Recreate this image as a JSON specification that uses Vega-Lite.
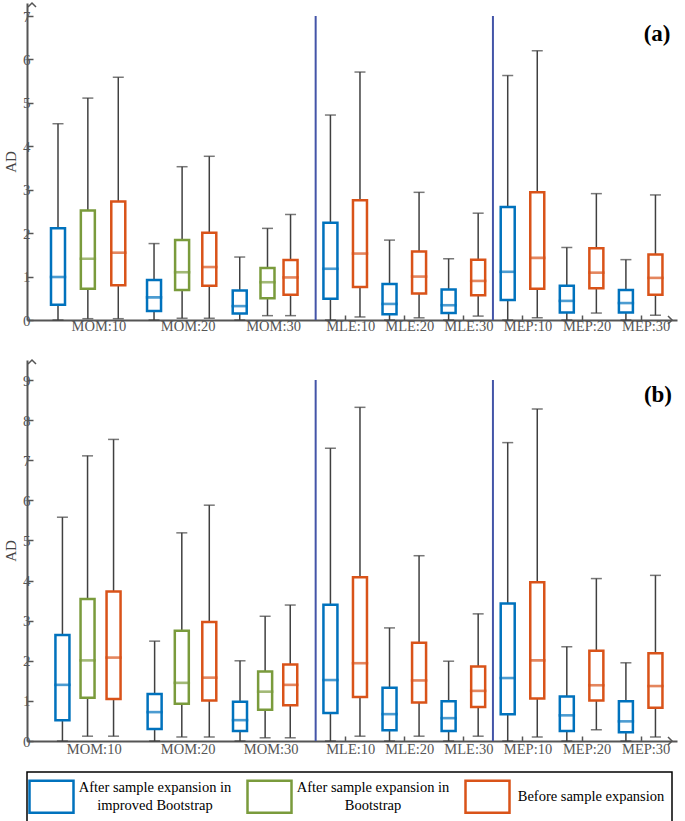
{
  "$schema": "https://vega.github.io/schema/vega-lite/v6.json",
  "padding": {"left": 3, "top": 0, "right": 2, "bottom": 0},
  "background": "white",
  "spacing": 24,
  "datasets": {
    "a": [
      {"group": "MOM:10", "series": "After sample expansion in improved Bootstrap", "pos": 0.78, "lo": 0, "q1": 0.35, "med": 0.99, "q3": 2.11, "hi": 4.52},
      {"group": "MOM:10", "series": "After sample expansion in Bootstrap", "pos": 1.79, "lo": 0.03, "q1": 0.72, "med": 1.41, "q3": 2.52, "hi": 5.11},
      {"group": "MOM:10", "series": "Before sample expansion", "pos": 2.82, "lo": 0.03, "q1": 0.80, "med": 1.55, "q3": 2.73, "hi": 5.59},
      {"group": "MOM:20", "series": "After sample expansion in improved Bootstrap", "pos": 4.03, "lo": 0, "q1": 0.21, "med": 0.52, "q3": 0.92, "hi": 1.76},
      {"group": "MOM:20", "series": "After sample expansion in Bootstrap", "pos": 4.98, "lo": 0.04, "q1": 0.69, "med": 1.10, "q3": 1.84, "hi": 3.53},
      {"group": "MOM:20", "series": "Before sample expansion", "pos": 5.90, "lo": 0.04, "q1": 0.79, "med": 1.22, "q3": 2.01, "hi": 3.77},
      {"group": "MOM:30", "series": "After sample expansion in improved Bootstrap", "pos": 6.93, "lo": 0, "q1": 0.15, "med": 0.32, "q3": 0.68, "hi": 1.45},
      {"group": "MOM:30", "series": "After sample expansion in Bootstrap", "pos": 7.87, "lo": 0.10, "q1": 0.50, "med": 0.87, "q3": 1.20, "hi": 2.11},
      {"group": "MOM:30", "series": "Before sample expansion", "pos": 8.65, "lo": 0.10, "q1": 0.58, "med": 0.98, "q3": 1.38, "hi": 2.43},
      {"group": "MLE:10", "series": "After sample expansion in improved Bootstrap", "pos": 10, "lo": 0, "q1": 0.49, "med": 1.18, "q3": 2.24, "hi": 4.72},
      {"group": "MLE:10", "series": "Before sample expansion", "pos": 11, "lo": 0.07, "q1": 0.76, "med": 1.53, "q3": 2.76, "hi": 5.71},
      {"group": "MLE:20", "series": "After sample expansion in improved Bootstrap", "pos": 12, "lo": 0, "q1": 0.13, "med": 0.37, "q3": 0.83, "hi": 1.84},
      {"group": "MLE:20", "series": "Before sample expansion", "pos": 13, "lo": 0.05, "q1": 0.61, "med": 1.00, "q3": 1.58, "hi": 2.94},
      {"group": "MLE:30", "series": "After sample expansion in improved Bootstrap", "pos": 14, "lo": 0, "q1": 0.16, "med": 0.34, "q3": 0.70, "hi": 1.41},
      {"group": "MLE:30", "series": "Before sample expansion", "pos": 15, "lo": 0.09, "q1": 0.57, "med": 0.90, "q3": 1.39, "hi": 2.46},
      {"group": "MEP:10", "series": "After sample expansion in improved Bootstrap", "pos": 16, "lo": 0, "q1": 0.46, "med": 1.11, "q3": 2.60, "hi": 5.63},
      {"group": "MEP:10", "series": "Before sample expansion", "pos": 17, "lo": 0.05, "q1": 0.72, "med": 1.43, "q3": 2.94, "hi": 6.20},
      {"group": "MEP:20", "series": "After sample expansion in improved Bootstrap", "pos": 18, "lo": 0, "q1": 0.17, "med": 0.44, "q3": 0.79, "hi": 1.67},
      {"group": "MEP:20", "series": "Before sample expansion", "pos": 19, "lo": 0.16, "q1": 0.73, "med": 1.09, "q3": 1.65, "hi": 2.91},
      {"group": "MEP:30", "series": "After sample expansion in improved Bootstrap", "pos": 20, "lo": 0, "q1": 0.17, "med": 0.39, "q3": 0.69, "hi": 1.39},
      {"group": "MEP:30", "series": "Before sample expansion", "pos": 21, "lo": 0.11, "q1": 0.58, "med": 0.97, "q3": 1.51, "hi": 2.88}
    ],
    "b": [
      {"group": "MOM:10", "series": "After sample expansion in improved Bootstrap", "pos": 0.93, "lo": 0, "q1": 0.52, "med": 1.40, "q3": 2.64, "hi": 5.58},
      {"group": "MOM:10", "series": "After sample expansion in Bootstrap", "pos": 1.78, "lo": 0.12, "q1": 1.08, "med": 2.01, "q3": 3.54, "hi": 7.11},
      {"group": "MOM:10", "series": "Before sample expansion", "pos": 2.66, "lo": 0.12, "q1": 1.05, "med": 2.08, "q3": 3.73, "hi": 7.52},
      {"group": "MOM:20", "series": "After sample expansion in improved Bootstrap", "pos": 4.05, "lo": 0, "q1": 0.30, "med": 0.72, "q3": 1.17, "hi": 2.49},
      {"group": "MOM:20", "series": "After sample expansion in Bootstrap", "pos": 4.97, "lo": 0.10, "q1": 0.93, "med": 1.45, "q3": 2.75, "hi": 5.19},
      {"group": "MOM:20", "series": "Before sample expansion", "pos": 5.90, "lo": 0.10, "q1": 1.01, "med": 1.58, "q3": 2.97, "hi": 5.88},
      {"group": "MOM:30", "series": "After sample expansion in improved Bootstrap", "pos": 6.94, "lo": 0, "q1": 0.25, "med": 0.52, "q3": 0.98, "hi": 2.00},
      {"group": "MOM:30", "series": "After sample expansion in Bootstrap", "pos": 7.79, "lo": 0.08, "q1": 0.78, "med": 1.23, "q3": 1.73, "hi": 3.11},
      {"group": "MOM:30", "series": "Before sample expansion", "pos": 8.64, "lo": 0.08, "q1": 0.89, "med": 1.40, "q3": 1.91, "hi": 3.39},
      {"group": "MLE:10", "series": "After sample expansion in improved Bootstrap", "pos": 10, "lo": 0, "q1": 0.70, "med": 1.52, "q3": 3.40, "hi": 7.30},
      {"group": "MLE:10", "series": "Before sample expansion", "pos": 11, "lo": 0.12, "q1": 1.10, "med": 1.94, "q3": 4.08, "hi": 8.32},
      {"group": "MLE:20", "series": "After sample expansion in improved Bootstrap", "pos": 12, "lo": 0, "q1": 0.27, "med": 0.67, "q3": 1.33, "hi": 2.82},
      {"group": "MLE:20", "series": "Before sample expansion", "pos": 13, "lo": 0.12, "q1": 0.96, "med": 1.51, "q3": 2.45, "hi": 4.62},
      {"group": "MLE:30", "series": "After sample expansion in improved Bootstrap", "pos": 14, "lo": 0, "q1": 0.25, "med": 0.57, "q3": 0.99, "hi": 1.99},
      {"group": "MLE:30", "series": "Before sample expansion", "pos": 15, "lo": 0.12, "q1": 0.85, "med": 1.25, "q3": 1.86, "hi": 3.17},
      {"group": "MEP:10", "series": "After sample expansion in improved Bootstrap", "pos": 16, "lo": 0, "q1": 0.67, "med": 1.57, "q3": 3.43, "hi": 7.44},
      {"group": "MEP:10", "series": "Before sample expansion", "pos": 17, "lo": 0.10, "q1": 1.06, "med": 2.01, "q3": 3.96, "hi": 8.28},
      {"group": "MEP:20", "series": "After sample expansion in improved Bootstrap", "pos": 18, "lo": 0, "q1": 0.25, "med": 0.64, "q3": 1.11, "hi": 2.35},
      {"group": "MEP:20", "series": "Before sample expansion", "pos": 19, "lo": 0.28, "q1": 1.01, "med": 1.39, "q3": 2.25, "hi": 4.05},
      {"group": "MEP:30", "series": "After sample expansion in improved Bootstrap", "pos": 20, "lo": 0, "q1": 0.22, "med": 0.49, "q3": 0.99, "hi": 1.95},
      {"group": "MEP:30", "series": "Before sample expansion", "pos": 21, "lo": 0.10, "q1": 0.83, "med": 1.37, "q3": 2.19, "hi": 4.13}
    ]
  },
  "config": {
    "view": {"stroke": null},
    "font": "'Liberation Serif', 'Times New Roman', serif",
    "axis": {
      "grid": false,
      "domainColor": "#555555",
      "domainWidth": 2,
      "tickColor": "#555555",
      "tickWidth": 1.5,
      "labelFont": "'Liberation Serif', 'Times New Roman', serif",
      "labelColor": "#555555",
      "titleFont": "'Liberation Serif', 'Times New Roman', serif",
      "titleFontWeight": "normal",
      "titleColor": "#444444"
    },
    "axisX": {"labelFontSize": 14.5, "labelOffset": 5, "labelPadding": 4, "tickSize": -5, "labelFlush": false, "labelOverlap": false},
    "axisY": {"labelFontSize": 15, "titleFontSize": 15, "tickSize": -6, "labelPadding": 3, "titlePadding": 4},
    "legend": {
      "orient": "bottom",
      "direction": "horizontal",
      "symbolType": "M-1.375,-1H1.375V1H-1.375Z",
      "symbolSize": 1024,
      "symbolStrokeWidth": 2.5,
      "symbolFillColor": "white",
      "symbolOpacity": 1,
      "labelFont": "'Liberation Serif', 'Times New Roman', serif",
      "labelFontSize": 14.5,
      "labelColor": "black",
      "labelAlign": "center",
      "labelBaseline": "middle",
      "labelOffset": 86,
      "labelLimit": 400,
      "columnPadding": 10,
      "padding": 7,
      "strokeColor": "black",
      "strokeWidth": 1.5,
      "offset": 16
    }
  },
  "resolve": {"scale": {"stroke": "shared"}},
  "vconcat": [
    {
      "width": 650,
      "height": 317,
      "data": {"name": "a"},
      "layer": [
        {
          "mark": {"type": "rule", "color": "#404040", "strokeWidth": 1.5},
          "encoding": {
            "x": {
              "field": "pos", "type": "quantitative",
              "scale": {"domain": [-0.1, 21.56], "nice": false, "zero": false},
              "axis": {
                "title": null,
                "values": [1.98, 5.0, 7.89, 10.5, 12.5, 14.5, 16.5, 18.5, 20.5],
                "labelExpr": "datum.value < 3 ? 'MOM:10' : datum.value < 6 ? 'MOM:20' : datum.value < 9 ? 'MOM:30' : datum.value < 11 ? 'MLE:10' : datum.value < 13 ? 'MLE:20' : datum.value < 15 ? 'MLE:30' : datum.value < 17 ? 'MEP:10' : datum.value < 19 ? 'MEP:20' : 'MEP:30'",
                "labelPadding": 4,
                "tickOpacity": {"condition": {"test": "datum.value < 9", "value": 0}, "value": 1}
              }
            },
            "y": {
              "field": "lo", "type": "quantitative",
              "scale": {"domain": [0, 7.3], "nice": false},
              "axis": {"title": "AD", "values": [0, 1, 2, 3, 4, 5, 6, 7], "format": "d"}
            },
            "y2": {"field": "hi"}
          }
        },
        {
          "mark": {"type": "tick", "orient": "horizontal", "size": 11, "thickness": 1.5, "color": "#404040"},
          "encoding": {"x": {"field": "pos", "type": "quantitative"}, "y": {"field": "hi", "type": "quantitative"}}
        },
        {
          "mark": {"type": "tick", "orient": "horizontal", "size": 11, "thickness": 1.5, "color": "#404040"},
          "encoding": {"x": {"field": "pos", "type": "quantitative"}, "y": {"field": "lo", "type": "quantitative"}}
        },
        {
          "mark": {"type": "bar", "width": 14, "fill": "white", "strokeWidth": 2.5},
          "encoding": {
            "x": {"field": "pos", "type": "quantitative"},
            "y": {"field": "q1", "type": "quantitative"},
            "y2": {"field": "q3"},
            "stroke": {
              "field": "series", "type": "nominal",
              "scale": {"domain": ["After sample expansion in improved Bootstrap", "After sample expansion in Bootstrap", "Before sample expansion"], "range": ["#0072BD", "#7A9B3C", "#D95319"]},
              "legend": {
                "title": null,
                "labelExpr": "datum.label == 'After sample expansion in improved Bootstrap' ? ['After sample expansion in', 'improved Bootstrap'] : datum.label == 'After sample expansion in Bootstrap' ? ['After sample expansion in', 'Bootstrap'] : datum.label",
                "encode": {
                  "symbols": {"update": {"fill": {"value": "white"}, "fillOpacity": {"value": 1}}},
                  "labels": {"update": {"lineHeight": {"value": 18}, "dy": {"signal": "datum.label == 'Before sample expansion' ? 0 : -9"}}}
                }
              }
            }
          }
        },
        {
          "mark": {"type": "tick", "orient": "horizontal", "size": 14, "thickness": 0.1, "filled": false, "strokeWidth": 2.5},
          "encoding": {
            "x": {"field": "pos", "type": "quantitative"},
            "y": {"field": "med", "type": "quantitative"},
            "stroke": {
              "field": "series", "type": "nominal",
              "legend": {
                "title": null,
                "labelExpr": "datum.label == 'After sample expansion in improved Bootstrap' ? ['After sample expansion in', 'improved Bootstrap'] : datum.label == 'After sample expansion in Bootstrap' ? ['After sample expansion in', 'Bootstrap'] : datum.label",
                "encode": {
                  "symbols": {"update": {"fill": {"value": "white"}, "fillOpacity": {"value": 1}}},
                  "labels": {"update": {"lineHeight": {"value": 18}, "dy": {"signal": "datum.label == 'Before sample expansion' ? 0 : -9"}}}
                }
              }
            }
          }
        },
        {
          "data": {"values": [{}]},
          "mark": {"type": "rule", "color": "#4455a8", "strokeWidth": 2},
          "encoding": {"x": {"datum": 9.5, "type": "quantitative"}, "y": {"datum": 0, "type": "quantitative"}, "y2": {"datum": 7}}
        },
        {
          "data": {"values": [{}]},
          "mark": {"type": "rule", "color": "#4455a8", "strokeWidth": 2},
          "encoding": {"x": {"datum": 15.5, "type": "quantitative"}, "y": {"datum": 0, "type": "quantitative"}, "y2": {"datum": 7}}
        },
        {
          "data": {"values": [{}]},
          "mark": {"type": "point", "shape": "M-1,1L0,0L1,1", "filled": false, "stroke": "#555555", "strokeWidth": 1.5, "size": 64, "opacity": 1},
          "encoding": {"x": {"datum": -0.1, "type": "quantitative"}, "y": {"datum": 7.3, "type": "quantitative"}}
        },
        {
          "data": {"values": [{}]},
          "mark": {"type": "point", "shape": "M-1,-1L0,0L-1,1", "filled": false, "stroke": "#555555", "strokeWidth": 1.5, "size": 64, "opacity": 1},
          "encoding": {"x": {"datum": 21.56, "type": "quantitative"}, "y": {"datum": 0, "type": "quantitative"}}
        },
        {
          "data": {"values": [{}]},
          "mark": {"type": "text", "text": "(a)", "font": "'Liberation Serif', 'Times New Roman', serif", "fontWeight": "bold", "fontSize": 23, "align": "right", "baseline": "middle", "color": "black"},
          "encoding": {"x": {"datum": 21.51, "type": "quantitative"}, "y": {"datum": 6.58, "type": "quantitative"}}
        }
      ]
    },
    {
      "width": 650,
      "height": 381,
      "data": {"name": "b"},
      "layer": [
        {
          "mark": {"type": "rule", "color": "#404040", "strokeWidth": 1.5},
          "encoding": {
            "x": {
              "field": "pos", "type": "quantitative",
              "scale": {"domain": [-0.1, 21.56], "nice": false, "zero": false},
              "axis": {
                "title": null,
                "values": [1.82, 5.0, 7.81, 10.5, 12.5, 14.5, 16.5, 18.5, 20.5],
                "labelExpr": "datum.value < 3 ? 'MOM:10' : datum.value < 6 ? 'MOM:20' : datum.value < 9 ? 'MOM:30' : datum.value < 11 ? 'MLE:10' : datum.value < 13 ? 'MLE:20' : datum.value < 15 ? 'MLE:30' : datum.value < 17 ? 'MEP:10' : datum.value < 19 ? 'MEP:20' : 'MEP:30'",
                "labelPadding": 6,
                "tickOpacity": {"condition": {"test": "datum.value < 9", "value": 0}, "value": 1}
              }
            },
            "y": {
              "field": "lo", "type": "quantitative",
              "scale": {"domain": [0, 9.5], "nice": false},
              "axis": {"title": "AD", "values": [0, 1, 2, 3, 4, 5, 6, 7, 8, 9], "format": "d"}
            },
            "y2": {"field": "hi"}
          }
        },
        {
          "mark": {"type": "tick", "orient": "horizontal", "size": 11, "thickness": 1.5, "color": "#404040"},
          "encoding": {"x": {"field": "pos", "type": "quantitative"}, "y": {"field": "hi", "type": "quantitative"}}
        },
        {
          "mark": {"type": "tick", "orient": "horizontal", "size": 11, "thickness": 1.5, "color": "#404040"},
          "encoding": {"x": {"field": "pos", "type": "quantitative"}, "y": {"field": "lo", "type": "quantitative"}}
        },
        {
          "mark": {"type": "bar", "width": 14, "fill": "white", "strokeWidth": 2.5},
          "encoding": {
            "x": {"field": "pos", "type": "quantitative"},
            "y": {"field": "q1", "type": "quantitative"},
            "y2": {"field": "q3"},
            "stroke": {
              "field": "series", "type": "nominal",
              "legend": {
                "title": null,
                "labelExpr": "datum.label == 'After sample expansion in improved Bootstrap' ? ['After sample expansion in', 'improved Bootstrap'] : datum.label == 'After sample expansion in Bootstrap' ? ['After sample expansion in', 'Bootstrap'] : datum.label",
                "encode": {
                  "symbols": {"update": {"fill": {"value": "white"}, "fillOpacity": {"value": 1}}},
                  "labels": {"update": {"lineHeight": {"value": 18}, "dy": {"signal": "datum.label == 'Before sample expansion' ? 0 : -9"}}}
                }
              }
            }
          }
        },
        {
          "mark": {"type": "tick", "orient": "horizontal", "size": 14, "thickness": 0.1, "filled": false, "strokeWidth": 2.5},
          "encoding": {
            "x": {"field": "pos", "type": "quantitative"},
            "y": {"field": "med", "type": "quantitative"},
            "stroke": {
              "field": "series", "type": "nominal",
              "legend": {
                "title": null,
                "labelExpr": "datum.label == 'After sample expansion in improved Bootstrap' ? ['After sample expansion in', 'improved Bootstrap'] : datum.label == 'After sample expansion in Bootstrap' ? ['After sample expansion in', 'Bootstrap'] : datum.label",
                "encode": {
                  "symbols": {"update": {"fill": {"value": "white"}, "fillOpacity": {"value": 1}}},
                  "labels": {"update": {"lineHeight": {"value": 18}, "dy": {"signal": "datum.label == 'Before sample expansion' ? 0 : -9"}}}
                }
              }
            }
          }
        },
        {
          "data": {"values": [{}]},
          "mark": {"type": "rule", "color": "#4455a8", "strokeWidth": 2},
          "encoding": {"x": {"datum": 9.5, "type": "quantitative"}, "y": {"datum": 0, "type": "quantitative"}, "y2": {"datum": 9}}
        },
        {
          "data": {"values": [{}]},
          "mark": {"type": "rule", "color": "#4455a8", "strokeWidth": 2},
          "encoding": {"x": {"datum": 15.5, "type": "quantitative"}, "y": {"datum": 0, "type": "quantitative"}, "y2": {"datum": 9}}
        },
        {
          "data": {"values": [{}]},
          "mark": {"type": "point", "shape": "M-1,1L0,0L1,1", "filled": false, "stroke": "#555555", "strokeWidth": 1.5, "size": 64, "opacity": 1},
          "encoding": {"x": {"datum": -0.1, "type": "quantitative"}, "y": {"datum": 9.5, "type": "quantitative"}}
        },
        {
          "data": {"values": [{}]},
          "mark": {"type": "point", "shape": "M-1,-1L0,0L-1,1", "filled": false, "stroke": "#555555", "strokeWidth": 1.5, "size": 64, "opacity": 1},
          "encoding": {"x": {"datum": 21.56, "type": "quantitative"}, "y": {"datum": 0, "type": "quantitative"}}
        },
        {
          "data": {"values": [{}]},
          "mark": {"type": "text", "text": "(b)", "font": "'Liberation Serif', 'Times New Roman', serif", "fontWeight": "bold", "fontSize": 23, "align": "right", "baseline": "middle", "color": "black"},
          "encoding": {"x": {"datum": 21.56, "type": "quantitative"}, "y": {"datum": 8.62, "type": "quantitative"}}
        }
      ]
    }
  ]
}
